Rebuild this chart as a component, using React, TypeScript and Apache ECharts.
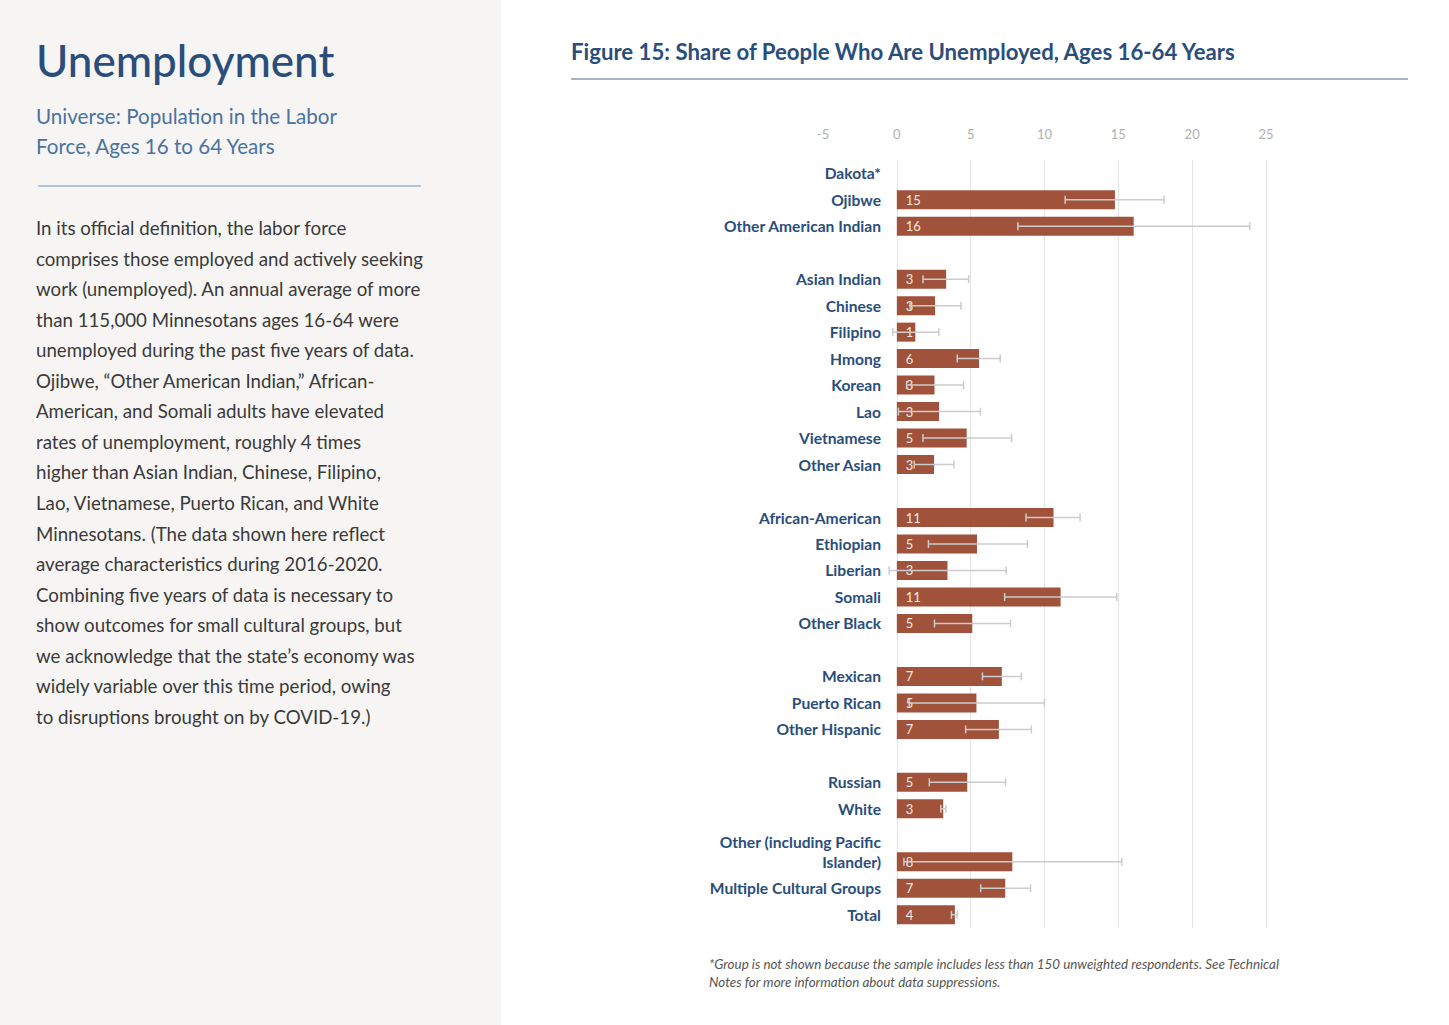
import React, { useEffect, useRef } from "react";
import * as echarts from "echarts";

const categories = [
  "Dakota*", "Ojibwe", "Other American Indian", "_gap1",
  "Asian Indian", "Chinese", "Filipino", "Hmong", "Korean", "Lao", "Vietnamese", "Other Asian", "_gap2",
  "African-American", "Ethiopian", "Liberian", "Somali", "Other Black", "_gap3",
  "Mexican", "Puerto Rican", "Other Hispanic", "_gap4",
  "Russian", "White", "_gap5",
  "Other (including Pacific\nIslander)", "Multiple Cultural Groups", "Total",
];

const shares = [
  null, 14.77, 16.04, null,
  3.34, 2.59, 1.25, 5.57, 2.55, 2.86, 4.73, 2.52, null,
  10.61, 5.43, 3.43, 11.09, 5.11, null,
  7.11, 5.39, 6.91, null,
  4.77, 3.14, null,
  7.82, 7.34, 3.93,
];

const lowerBounds = [
  null, 11.4, 8.2, null,
  1.77, 0.9, -0.27, 4.09, 0.66, 0.11, 1.77, 1.18, null,
  8.75, 2.14, -0.52, 7.3, 2.55, null,
  5.8, 0.84, 4.66, null,
  2.2, 2.98, null,
  0.48, 5.68, 3.7,
];

const upperBounds = [
  null, 18.1, 23.9, null,
  4.86, 4.34, 2.84, 7.0, 4.52, 5.66, 7.77, 3.86, null,
  12.41, 8.84, 7.41, 14.89, 7.7, null,
  8.43, 10.0, 9.11, null,
  7.36, 3.32, null,
  15.23, 9.05, 4.09,
];

const xTicks = { min: -5, max: 25, interval: 5 };

const bodyLines = [
  "In its official definition, the labor force",
  "comprises those employed and actively seeking",
  "work (unemployed). An annual average of more",
  "than 115,000 Minnesotans ages 16-64 were",
  "unemployed during the past five years of data.",
  "Ojibwe, \u201COther American Indian,\u201D African-",
  "American, and Somali adults have elevated",
  "rates of unemployment, roughly 4 times",
  "higher than Asian Indian, Chinese, Filipino,",
  "Lao, Vietnamese, Puerto Rican, and White",
  "Minnesotans. (The data shown here reflect",
  "average characteristics during 2016-2020.",
  "Combining five years of data is necessary to",
  "show outcomes for small cultural groups, but",
  "we acknowledge that the state\u2019s economy was",
  "widely variable over this time period, owing",
  "to disruptions brought on by COVID-19.)",
];

const FONT = "Lato, 'Noto Sans', sans-serif";
const BLUE = "#2a4e7c";

export default function App() {
  const ref = useRef<HTMLDivElement>(null);

  useEffect(() => {
    if (!ref.current) return;
    const chart = echarts.init(ref.current, null, { renderer: "svg" });

    const errData = categories
      .map((_, i) => (lowerBounds[i] == null ? null : [i, lowerBounds[i], upperBounds[i]]))
      .filter((d) => d !== null);

    const gridColors = [
      "rgba(0,0,0,0)", "#e4e4e4", "#e4e4e4", "#e4e4e4", "#e4e4e4", "#e4e4e4", "#e4e4e4",
    ];

    const graphics: any[] = [
      { type: "rect", z: -10, shape: { x: 0, y: 0, width: 501, height: 1025 }, style: { fill: "#f6f5f3" } },
      {
        type: "text", x: 36, y: 60,
        style: { text: "Unemployment", font: `500 44px ${FONT}`, fill: BLUE, verticalAlign: "middle" },
      },
      {
        type: "text", x: 36, y: 116,
        style: { text: "Universe: Population in the Labor", font: `400 20.6px ${FONT}`, fill: "#4a72a0", verticalAlign: "middle" },
      },
      {
        type: "text", x: 36, y: 146,
        style: { text: "Force, Ages 16 to 64 Years", font: `400 20.6px ${FONT}`, fill: "#4a72a0", verticalAlign: "middle" },
      },
      { type: "line", shape: { x1: 38, y1: 186, x2: 421, y2: 186 }, style: { stroke: "#9bb2cc", lineWidth: 1.5 } },
      {
        type: "text", x: 571, y: 51,
        style: { text: "Figure 15: Share of People Who Are Unemployed, Ages 16-64 Years", font: `700 22.2px ${FONT}`, fill: BLUE, verticalAlign: "middle" },
      },
      { type: "line", shape: { x1: 571, y1: 79, x2: 1408, y2: 79 }, style: { stroke: "#a9b4c2", lineWidth: 2 } },
      {
        type: "text", x: 709, y: 964,
        style: { text: "*Group is not shown because the sample includes less than 150 unweighted respondents. See Technical", font: `italic 400 13.4px ${FONT}`, fill: "#555", verticalAlign: "middle" },
      },
      {
        type: "text", x: 709, y: 982,
        style: { text: "Notes for more information about data suppressions.", font: `italic 400 13.4px ${FONT}`, fill: "#555", verticalAlign: "middle" },
      },
    ];
    bodyLines.forEach((line, i) => {
      graphics.push({
        type: "text", x: 36, y: 228 + i * 30.56,
        style: { text: line, font: `400 18.7px ${FONT}`, fill: "#3a3a3a", verticalAlign: "middle" },
      });
    });

    chart.setOption({
      animation: false,
      backgroundColor: "#ffffff",
      textStyle: { fontFamily: FONT },
      grid: { left: 823, right: 183, top: 160, bottom: 97, containLabel: false },
      xAxis: {
        type: "value",
        position: "top",
        min: xTicks.min,
        max: xTicks.max,
        interval: xTicks.interval,
        axisLine: { show: false },
        axisTick: { show: false },
        axisLabel: { color: "#b0b0b0", fontSize: 13, margin: 20, fontFamily: FONT },
        splitLine: { show: true, lineStyle: { color: gridColors, width: 1 } },
      },
      yAxis: {
        type: "category",
        inverse: true,
        data: categories,
        axisLine: { show: false },
        axisTick: { show: false },
        splitLine: { show: false },
        axisLabel: {
          interval: 0,
          margin: -58,
          color: BLUE,
          fontSize: 15.6,
          fontWeight: "bold",
          lineHeight: 20,
          fontFamily: FONT,
          formatter: (v: string) =>
            v.indexOf("_gap") === 0 ? "" : v.indexOf("Other (including") === 0 ? v + "\n " : v,
        },
      },
      series: [
        {
          type: "bar",
          data: shares,
          barWidth: 19,
          itemStyle: { color: "#a0523a" },
          label: {
            show: true,
            position: "insideLeft",
            distance: 9,
            color: "#f6e8e2",
            fontSize: 13,
            fontFamily: FONT,
            formatter: (p: any) => (p.value == null ? "" : String(Math.round(p.value))),
          },
          z: 2,
        },
        {
          type: "custom",
          data: errData,
          encode: { x: [1, 2], y: 0 },
          z: 5,
          renderItem: (params: any, api: any) => {
            const idx = api.value(0);
            const lo = api.coord([api.value(1), idx]);
            const hi = api.coord([api.value(2), idx]);
            const h = 4;
            const st = { stroke: "#cccccc", lineWidth: 1.5 };
            return {
              type: "group",
              children: [
                { type: "line", shape: { x1: lo[0], y1: lo[1], x2: hi[0], y2: hi[1] }, style: st },
                { type: "line", shape: { x1: lo[0], y1: lo[1] - h, x2: lo[0], y2: lo[1] + h }, style: st },
                { type: "line", shape: { x1: hi[0], y1: hi[1] - h, x2: hi[0], y2: hi[1] + h }, style: st },
              ],
            };
          },
        },
      ],
      graphic: graphics,
    });

    return () => chart.dispose();
  }, []);

  return (
    <div
      ref={ref}
      style={{ position: "fixed", left: 0, top: 0, width: 1449, height: 1025 }}
    />
  );
}
